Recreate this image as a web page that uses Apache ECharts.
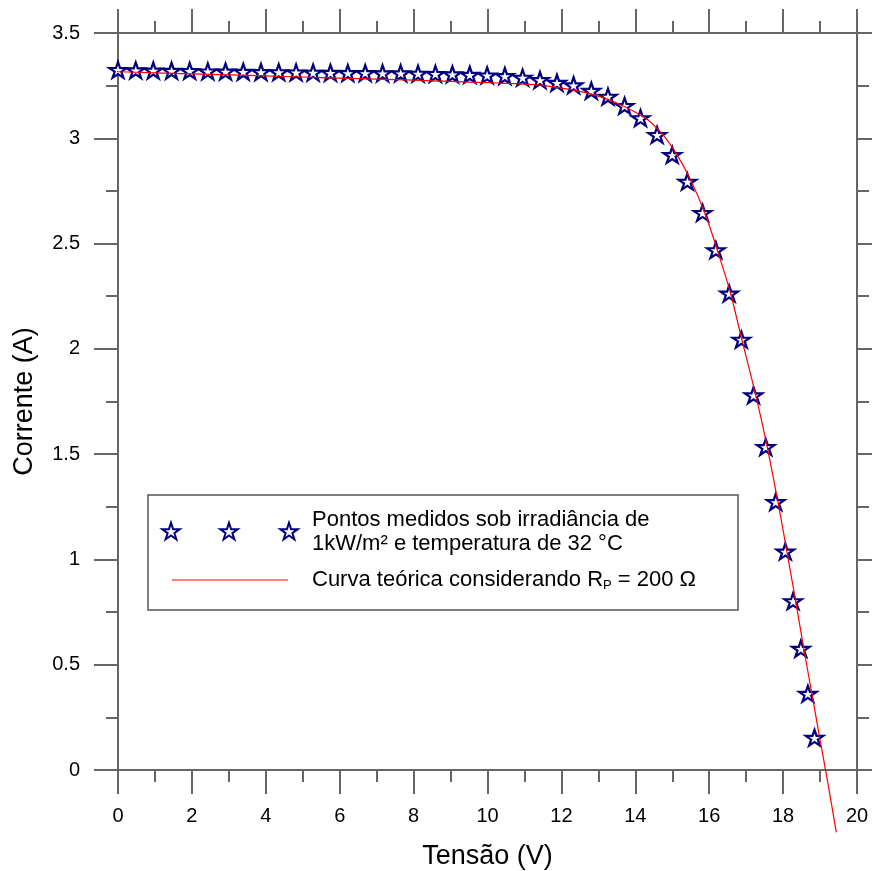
<!DOCTYPE html>
<html><head><meta charset="utf-8">
<script src="https://cdn.jsdelivr.net/npm/echarts@6/dist/echarts.min.js"></script>
<style>html,body{margin:0;padding:0;background:#fff}#c{width:872px;height:871px}</style>
</head><body><div id="c"></div>
<script>
// Measured points (Tensão V, Corrente A)
const measuredV = [0.0,0.48,0.955,1.45,1.94,2.43,2.91,3.39,3.87,4.35,4.82,5.28,5.75,6.22,6.69,7.16,7.65,8.12,8.59,9.05,9.52,9.99,10.47,10.95,11.42,11.88,12.33,12.81,13.26,13.71,14.14,14.59,15.00,15.41,15.82,16.18,16.54,16.87,17.2,17.53,17.8,18.06,18.27,18.48,18.67,18.85];
const measuredI = [3.325,3.323,3.322,3.321,3.32,3.318,3.317,3.316,3.315,3.314,3.313,3.312,3.311,3.31,3.31,3.309,3.309,3.307,3.306,3.304,3.302,3.299,3.296,3.288,3.277,3.264,3.252,3.226,3.198,3.154,3.096,3.016,2.921,2.794,2.646,2.469,2.263,2.044,1.78,1.534,1.273,1.038,0.802,0.576,0.362,0.153];
// Theoretical curve (Rp = 200 ohm)
const curveV = [-0.49,0,1,2,3,4,5,6,7,8,9,10,10.5,11.0,11.42,11.88,12.33,12.81,13.26,13.71,14.3,14.75,15.13,15.52,15.88,16.22,16.58,16.87,17.26,17.57,17.86,18.1,18.34,18.56,18.78,18.99,19.2,19.44];
const curveI = [3.318,3.316,3.311,3.306,3.301,3.296,3.291,3.286,3.281,3.276,3.27,3.264,3.261,3.257,3.252,3.242,3.229,3.21,3.185,3.15,3.093,3.016,2.921,2.794,2.646,2.469,2.263,2.054,1.78,1.534,1.273,1.04,0.802,0.576,0.362,0.153,-0.05,-0.296];
// Axis ranges / ticks
const xRange = [0, 20], xStep = 2;
const yRange = [0, 3.5], yStep = 0.5;
const xTitle = 'Tensão (V)';
const yTitle = 'Corrente (A)';
const legendLine1 = 'Pontos medidos sob irradiância de';
const legendLine2 = '1kW/m² e temperatura de 32 °C';

function starPoints(cx, cy, R) {
  const pts = [];
  for (let i = 0; i < 10; i++) {
    const a = (-90 + i * 36) * Math.PI / 180;
    const r = i % 2 === 0 ? R : R * 0.382;
    pts.push([cx + r * Math.cos(a), cy + r * Math.sin(a)]);
  }
  return pts;
}
const starPath = 'path://' + starPoints(10, 10, 10).map((p, i) => (i ? 'L' : 'M') + p[0].toFixed(3) + ' ' + p[1].toFixed(3)).join(' ') + ' Z';

const FONT = '"Liberation Sans", Arial, sans-serif';
const axisCol = '#666';
const lineStyle = { color: axisCol, width: 2 };
const baseAxis = {
  type: 'value',
  axisLine: { show: true, onZero: false, lineStyle },
  axisTick: { show: true, inside: false, length: 24, lineStyle },
  minorTick: { show: true, splitNumber: 2, length: 12, lineStyle },
  splitLine: { show: false },
  minorSplitLine: { show: false }
};

const chart = echarts.init(document.getElementById('c'), null, { renderer: 'canvas' });
const legendStars = [171, 229, 289].map(x => ({
  type: 'polygon', z: 101,
  shape: { points: starPoints(x, 532, 9.2) },
  style: { fill: '#fff', stroke: '#000080', lineWidth: 2 }
}));

chart.setOption({
  animation: false,
  backgroundColor: '#fff',
  textStyle: { fontFamily: FONT },
  grid: { left: 118, top: 33, width: 739, height: 737, containLabel: false, outerBoundsMode: 'none' },
  xAxis: [
    Object.assign({}, baseAxis, {
      position: 'bottom', min: xRange[0], max: xRange[1], interval: xStep,
      axisLabel: { show: true, margin: 36, fontSize: 20, color: '#000', fontFamily: FONT },
      name: xTitle, nameLocation: 'middle', nameGap: 73,
      nameTextStyle: { fontSize: 27, color: '#000', fontFamily: FONT }
    }),
    Object.assign({}, baseAxis, {
      position: 'top', min: xRange[0], max: xRange[1], interval: xStep,
      axisLabel: { show: false }
    })
  ],
  yAxis: [
    Object.assign({}, baseAxis, {
      position: 'left', min: yRange[0], max: yRange[1], interval: yStep,
      axisLabel: { show: true, margin: 38, fontSize: 20, color: '#000', fontFamily: FONT },
      name: yTitle, nameLocation: 'middle', nameGap: 80,
      nameTextStyle: { fontSize: 27, color: '#000', fontFamily: FONT }
    }),
    Object.assign({}, baseAxis, {
      position: 'right', min: yRange[0], max: yRange[1], interval: yStep,
      axisLabel: { show: false }
    })
  ],
  series: [
    {
      type: 'scatter', name: 'Pontos medidos', xAxisIndex: 0, yAxisIndex: 0, z: 2,
      data: measuredV.map((v, i) => [v, measuredI[i]]),
      symbol: starPath, symbolSize: [17.5, 16.6], symbolKeepAspect: true,
      itemStyle: { color: '#fff', borderColor: '#000080', borderWidth: 2.2, opacity: 1 }
    },
    {
      type: 'line', name: 'Curva teórica', xAxisIndex: 0, yAxisIndex: 0, z: 3,
      data: curveV.map((v, i) => [v, curveI[i]]),
      showSymbol: false, symbol: 'none', clip: false,
      smooth: 0.25,
      lineStyle: { color: '#ff0000', width: 1.2 }
    }
  ],
  graphic: [
    { type: 'rect', z: 100, shape: { x: 148, y: 495, width: 590, height: 115 },
      style: { fill: '#fff', stroke: '#555', lineWidth: 1.5 } },
    ...legendStars,
    { type: 'text', z: 101, x: 312, y: 508,
      style: { text: legendLine1 + '\n' + legendLine2, font: '22px ' + FONT, fill: '#000', lineHeight: 24, verticalAlign: 'top' } },
    { type: 'line', z: 101, shape: { x1: 172, y1: 580, x2: 288, y2: 580 },
      style: { stroke: '#ff0000', lineWidth: 1.2 } },
    { type: 'text', z: 101, x: 312, y: 580,
      style: {
        text: '{a|Curva teórica considerando R}{s|P}{a| = 200 Ω}',
        verticalAlign: 'middle',
        rich: {
          a: { fontSize: 22, fontFamily: FONT, color: '#000' },
          s: { fontSize: 13, fontFamily: FONT, color: '#000', padding: [10, 0, 0, 0] }
        }
      } }
  ]
});
</script></body></html>
